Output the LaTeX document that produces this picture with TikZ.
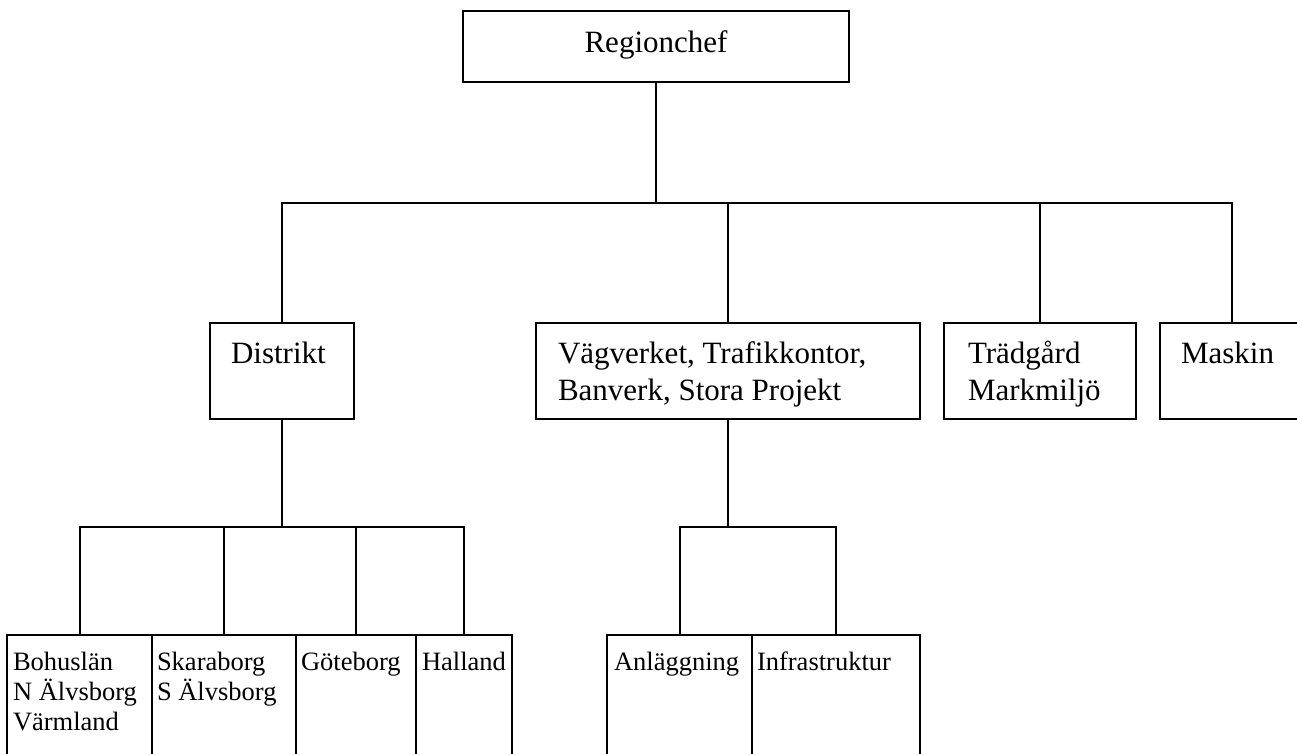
\documentclass[tikz,border=0pt]{standalone}
\usepackage{fontspec}
\setmainfont{Liberation Serif}
\begin{document}
\begin{tikzpicture}[x=1pt,y=-1pt,
  box/.style={draw=black, line width=2pt, rectangle, inner sep=0pt, outer sep=0pt, anchor=north west, fill=white},
  bigtxt/.style={inner sep=0pt, outer sep=0pt, font=\fontsize{31}{37}\selectfont},
  smalltxt/.style={inner sep=0pt, outer sep=0pt, font=\fontsize{26.5}{30}\selectfont},
  conn/.style={draw=black, line width=2pt}]
\clip (0,0) rectangle (1297,753);
\fill[white] (0,0) rectangle (1297,753);

% boxes
\node[box, minimum width=386pt, minimum height=71pt] (reg) at (463,11) {};
\node[box, minimum width=144pt, minimum height=96pt] (dist) at (210,323) {};
\node[box, minimum width=384pt, minimum height=96pt] (vag) at (536,323) {};
\node[box, minimum width=192pt, minimum height=96pt] (trad) at (944,323) {};
\node[box, minimum width=144pt, minimum height=96pt] (mask) at (1160,323) {};

\node[box, minimum width=145pt, minimum height=140pt] (boh) at (7,635) {};
\node[box, minimum width=144pt, minimum height=140pt] (ska) at (152,635) {};
\node[box, minimum width=120pt, minimum height=140pt] (gob) at (296,635) {};
\node[box, minimum width=96pt, minimum height=140pt] (hal) at (416,635) {};
\node[box, minimum width=145pt, minimum height=140pt] (anl) at (607,635) {};
\node[box, minimum width=168pt, minimum height=140pt] (inf) at (752,635) {};

% bus coordinates
\coordinate (bus1) at (reg.south |- 0,203);
\coordinate (bus2) at (dist.south |- 0,527);
\coordinate (bus3) at (vag.south |- 0,527);

% connectors
\draw[conn] (reg.south) -- (bus1) -| (dist.north);
\draw[conn] (bus1) -| (vag.north);
\draw[conn] (bus1) -| (trad.north);
\draw[conn] (bus1) -| (mask.north);

\draw[conn] (dist.south) -- (bus2) -| (boh.north);
\draw[conn] (bus2) -| (ska.north);
\draw[conn] (bus2) -| (gob.north);
\draw[conn] (bus2) -| (hal.north);

\draw[conn] (vag.south) -- (bus3) -| (anl.north);
\draw[conn] (bus3) -| (inf.north);

% texts
\node[bigtxt, anchor=base] (reg-t) at (656,52) {Regionchef};
\node[bigtxt, anchor=base west] (dist-t) at (231,363) {Distrikt};
\node[bigtxt, anchor=base west] (vag-t) at (558,363) {\vtop{\hbox{Vägverket, Trafikkontor,}\hbox{Banverk, Stora Projekt}}};
\node[bigtxt, anchor=base west] (trad-t) at (968,363) {\vtop{\hbox{Trädgård}\hbox{Markmiljö}}};
\node[bigtxt, anchor=base west] (mask-t) at (1181,363) {Maskin};

\node[smalltxt, anchor=base west] (boh-t) at (13,670) {\vtop{\hbox{Bohuslän}\hbox{N Älvsborg}\hbox{Värmland}}};
\node[smalltxt, anchor=base west] (ska-t) at (157,670) {\vtop{\hbox{Skaraborg}\hbox{S Älvsborg}}};
\node[smalltxt, anchor=base west] (gob-t) at (301,670) {Göteborg};
\node[smalltxt, anchor=base west] (hal-t) at (422,670) {Halland};
\node[smalltxt, anchor=base west] (anl-t) at (614,670) {Anläggning};
\node[smalltxt, anchor=base west] (inf-t) at (757,670) {Infrastruktur};
\end{tikzpicture}
\end{document}
